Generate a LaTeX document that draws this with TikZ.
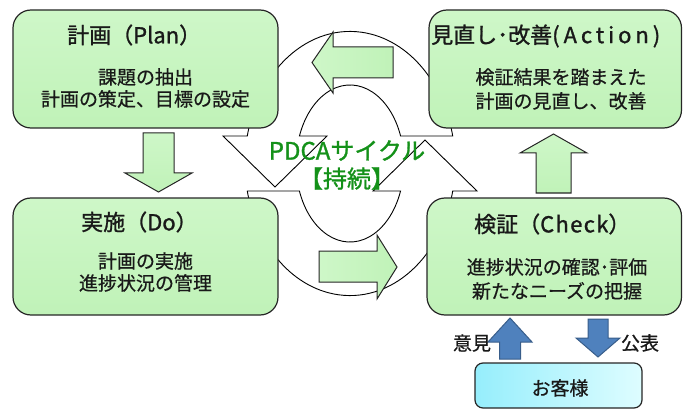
\documentclass[tikz,border=0pt]{standalone}
\usepackage{fontspec}
\setmainfont{Noto Sans CJK JP}
\newfontfamily\ttlfont[FakeBold=1.2]{Noto Sans CJK JP}
\newfontfamily\bdyfont[FakeBold=0.6]{Noto Sans CJK JP}
\definecolor{gtop}{RGB}{206,247,200}
\definecolor{gmid}{RGB}{242,255,240}
\definecolor{gbot}{RGB}{192,242,184}
\definecolor{blfill}{RGB}{79,129,189}
\definecolor{bldraw}{RGB}{56,93,138}
\definecolor{cyl}{RGB}{150,238,252}
\definecolor{cyr}{RGB}{222,253,255}
\definecolor{pdcagreen}{RGB}{20,145,25}
\begin{document}
\begin{tikzpicture}[x=1pt,y=-1pt,
  box/.style={draw=black!85,line width=1.2pt,rounded corners=18pt,
    top color=gtop,middle color=gmid,bottom color=gbot,inner sep=0pt},
  ring/.style={draw=black,line width=0.9pt,fill=white,line join=miter},
  hgarrow/.style={draw=black!85,line width=1pt,left color=gtop,middle color=gmid,right color=gbot},
  vgarrow/.style={draw=black!85,line width=1pt,top color=gtop,middle color=gmid,bottom color=gbot},
  blarrow/.style={draw=bldraw,line width=1pt,fill=blfill},
  ttl/.style={font=\ttlfont\fontsize{22}{26}\selectfont,inner sep=0pt,text=black!90},
  bdy/.style={font=\bdyfont\fontsize{19}{22}\selectfont,align=center,inner sep=0pt,text=black!90},
]
\useasboundingbox (0,0) rectangle (683,409);

% circular ring arrows
\draw[ring] (452.7,136) -- (400.6,136)
  arc[start angle=-20.5,end angle=-159.5,x radius=54,y radius=78.5]
  -- (327,136) -- (275,187) -- (223,136) -- (247.3,136)
  arc[start angle=-168,end angle=-12,x radius=105,y radius=132] -- cycle;
\draw[ring] (247.3,191) -- (299.4,191)
  arc[start angle=159.5,end angle=20.5,x radius=54,y radius=78.5]
  -- (373,191) -- (425,140) -- (477,191) -- (452.7,191)
  arc[start angle=12,end angle=168,x radius=105,y radius=132] -- cycle;

% green block arrows in the cycle
\draw[hgarrow] (393,47) -- (333,47) -- (333,32) -- (312,62.5) -- (333,93) -- (333,78) -- (393,78) -- cycle;
\draw[hgarrow] (319,251) -- (377,251) -- (377,235) -- (397,267) -- (377,299) -- (377,282) -- (319,282) -- cycle;

% boxes
\node[box,minimum width=265pt,minimum height=118pt] (plan) at (145.5,69) {};
\node[box,minimum width=252.5pt,minimum height=118pt] (action) at (555.25,69) {};
\node[box,minimum width=265pt,minimum height=117pt] (do) at (145.5,256.5) {};
\node[box,minimum width=254.5pt,minimum height=117pt] (check) at (554.25,256.5) {};
\node[draw=black!85,line width=1.2pt,rounded corners=8pt,left color=cyl,right color=cyr,
  minimum width=167pt,minimum height=45pt,inner sep=0pt] (cust) at (558.5,385.5) {};

% vertical green arrows between boxes
\draw[vgarrow] (143,133) -- (174,133) -- (174,173) -- (192,173) -- (158.5,192) -- (125,173) -- (143,173) -- cycle;
\draw[vgarrow] (536,193) -- (571,193) -- (571,153) -- (587,153) -- (553.5,134) -- (520,153) -- (536,153) -- cycle;

% blue arrows
\draw[blarrow] (499.5,359) -- (520.5,359) -- (520.5,342) -- (532,342) -- (510,318) -- (488,342) -- (499.5,342) -- cycle;
\draw[blarrow] (588,319) -- (608,319) -- (608,338) -- (620,338) -- (598,357) -- (576,338) -- (588,338) -- cycle;

% texts
\node[ttl,anchor=west] (plant) at (67,35) {計画（Plan）};
\node[bdy] (planb) at (145.5,88) {課題の抽出\\計画の策定、目標の設定};
\node[ttl,anchor=west] (actiont) at (431,36) {見直し･改善{\addfontfeature{LetterSpace=18}(Action)}};
\node[bdy,font=\bdyfont\fontsize{19}{24}\selectfont] (actionb) at (561,89) {検証結果を踏まえた\\計画の見直し、改善};
\node[ttl,anchor=west] (dot) at (81,222) {実施（Do）};
\node[bdy] (dob) at (145.5,272) {計画の実施\\進捗状況の管理};
\node[ttl,anchor=west] (checkt) at (474,224) {検証（{\addfontfeature{LetterSpace=6}Check}）};
\node[bdy,font=\bdyfont\fontsize{19}{24}\selectfont] (checkb) at (557,279) {進捗状況の確認･評価\\新たなニーズの把握};
\node[font=\ttlfont\fontsize{24}{28}\selectfont,text=pdcagreen,align=center,inner sep=0pt] (pdca) at (347,165) {PDCAサイクル\\【持続】};
\node[bdy] (iken) at (472,343) {意見};
\node[bdy] (kohyo) at (640,343) {公表};
\node[bdy] (custt) at (560,388) {お客様};
\end{tikzpicture}
\end{document}
